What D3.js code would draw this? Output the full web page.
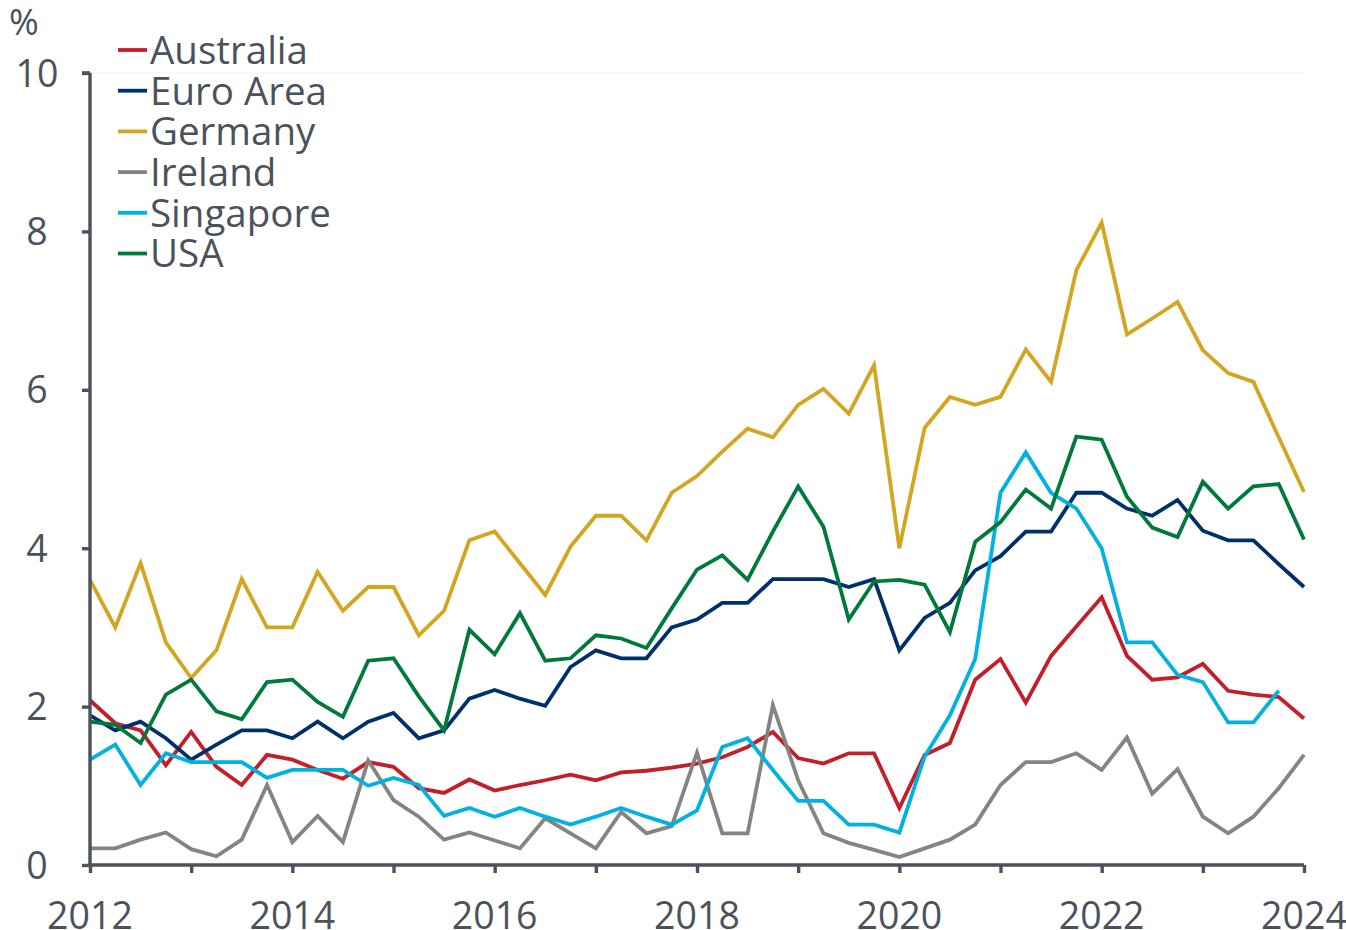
<!DOCTYPE html>
<html><head><meta charset="utf-8">
<script src="https://cdn.jsdelivr.net/npm/d3@7"></script>
<style>
html,body{margin:0;padding:0;background:#fff;overflow:hidden;}
text{font-family:"Open Sans",sans-serif;fill:#4b525c;}
</style></head>
<body><svg id="c" width="1346" height="930"></svg>
<script>
const startYear = 2012;
const seriesNames = ["Australia","Euro Area","Germany","Ireland","Singapore","USA"];
const seriesColors = ["#c41e2a","#00306b","#d4a521","#85857f","#00b1e1","#007a3c"];
const australia = [2.08,1.79,1.70,1.26,1.68,1.24,1.01,1.39,1.33,1.20,1.09,1.30,1.24,0.97,0.91,1.08,0.94,1.01,1.07,1.14,1.07,1.17,1.19,1.23,1.28,1.36,1.49,1.68,1.35,1.28,1.41,1.41,0.72,1.39,1.54,2.34,2.60,2.05,2.64,3.01,3.38,2.64,2.34,2.37,2.54,2.20,2.15,2.12,1.85];
const euroArea = [1.89,1.70,1.81,1.60,1.33,1.52,1.70,1.70,1.60,1.81,1.60,1.81,1.92,1.60,1.70,2.10,2.21,2.10,2.01,2.50,2.71,2.61,2.61,3.00,3.10,3.31,3.31,3.61,3.61,3.61,3.51,3.61,2.71,3.12,3.31,3.72,3.90,4.21,4.21,4.70,4.70,4.50,4.41,4.61,4.22,4.10,4.10,3.80,3.51];
const germany = [3.60,3.00,3.81,2.81,2.36,2.71,3.61,3.00,3.00,3.70,3.21,3.51,3.51,2.90,3.21,4.10,4.21,3.81,3.41,4.02,4.41,4.41,4.10,4.70,4.91,5.22,5.51,5.40,5.81,6.01,5.70,6.31,4.00,5.52,5.91,5.81,5.91,6.51,6.10,7.51,8.11,6.70,6.90,7.11,6.50,6.21,6.10,5.40,4.71];
const ireland = [0.21,0.21,0.32,0.41,0.20,0.11,0.32,1.01,0.29,0.62,0.29,1.32,0.82,0.61,0.32,0.41,0.31,0.21,0.59,0.40,0.21,0.67,0.40,0.49,1.42,0.40,0.40,2.02,1.07,0.40,0.28,0.19,0.10,0.21,0.32,0.51,1.01,1.30,1.30,1.41,1.20,1.61,0.90,1.21,0.61,0.40,0.61,0.97,1.39];
const singapore = [1.33,1.52,1.01,1.41,1.30,1.30,1.30,1.10,1.20,1.20,1.20,1.00,1.10,1.01,0.62,0.72,0.61,0.72,0.61,0.51,0.61,0.72,0.61,0.51,0.69,1.49,1.60,1.20,0.81,0.81,0.51,0.51,0.41,1.37,1.89,2.60,4.70,5.21,4.70,4.50,4.00,2.81,2.81,2.40,2.31,1.80,1.80,2.20];
const usa = [1.81,1.77,1.54,2.15,2.34,1.94,1.84,2.31,2.34,2.06,1.87,2.58,2.61,2.13,1.70,2.97,2.66,3.18,2.58,2.61,2.90,2.86,2.74,3.24,3.73,3.91,3.60,4.21,4.78,4.27,3.10,3.58,3.60,3.54,2.94,4.08,4.33,4.74,4.50,5.41,5.37,4.65,4.26,4.14,4.84,4.50,4.78,4.81,4.11];
const yTicks = [0,2,4,6,8,10];
const xTickYears = [2012,2013,2014,2015,2016,2017,2018,2019,2020,2021,2022,2023,2024];
const xLabelYears = [2012,2014,2016,2018,2020,2022,2024];
const unitLabel = "%";

const seriesValues = [australia,euroArea,germany,ireland,singapore,usa];
const svg = d3.select("#c");
const axisColor = "#4b525c";
const x = d3.scaleLinear().domain([2012,2024]).range([90,1304]);
const y = d3.scaleLinear().domain([0,10]).range([865,73]);

// faint top line
svg.append("line").attr("x1",92).attr("x2",1304).attr("y1",y(10)).attr("y2",y(10))
  .attr("stroke","#f1f2f3").attr("stroke-width",1);

// Lines
const line = d3.line().x(d=>x(d[0])).y(d=>y(d[1]));
seriesValues.forEach((vals,k)=>{
  const pts = vals.map((v,i)=>[startYear+i*0.25,v]);
  svg.append("path").datum(pts).attr("d",line).attr("fill","none")
    .attr("stroke",seriesColors[k]).attr("stroke-width",3.8)
    .attr("stroke-linejoin","miter").attr("stroke-miterlimit",4);
});

// Y axis
const yAxis = d3.axisLeft(y).tickValues(yTicks).tickSize(8).tickFormat("");
const gy = svg.append("g").attr("transform","translate(90,0)").call(yAxis);
gy.selectAll("path,line").attr("stroke",axisColor).attr("stroke-width",3.4);
gy.select(".domain").attr("d",`M0,${y(10)}H-8M0,${y(10)}V${y(0)}`);
yTicks.forEach(t=>{
  svg.append("text").attr("x",37).attr("y",y(t)).attr("dy","0.36em")
    .attr("text-anchor","middle").attr("font-size",37.5).text(t);
});
svg.append("text").attr("x",24).attr("y",22).attr("dy","0.36em").attr("text-anchor","middle")
  .attr("font-size",36).text(unitLabel);

// X axis
const xAxis = d3.axisBottom(x).tickValues(xTickYears).tickSize(8).tickFormat("");
const gx = svg.append("g").attr("transform",`translate(0,${y(0)})`).call(xAxis);
gx.selectAll("path,line").attr("stroke",axisColor).attr("stroke-width",3.4);
gx.select(".domain").attr("d",`M${x(2012)},0H${x(2024)}`);
xLabelYears.forEach(t=>{
  svg.append("text").attr("x",x(t)).attr("y",929).attr("text-anchor","middle")
    .attr("font-size",37.5).text(t);
});

// Legend
seriesNames.forEach((n,k)=>{
  const cy = 50 + k*40.7;
  svg.append("line").attr("x1",118).attr("x2",147).attr("y1",cy).attr("y2",cy)
    .attr("stroke",seriesColors[k]).attr("stroke-width",3.8);
  svg.append("text").attr("x",150).attr("y",cy).attr("dy","0.36em")
    .attr("font-size",38.5).text(n);
});
</script></body></html>
